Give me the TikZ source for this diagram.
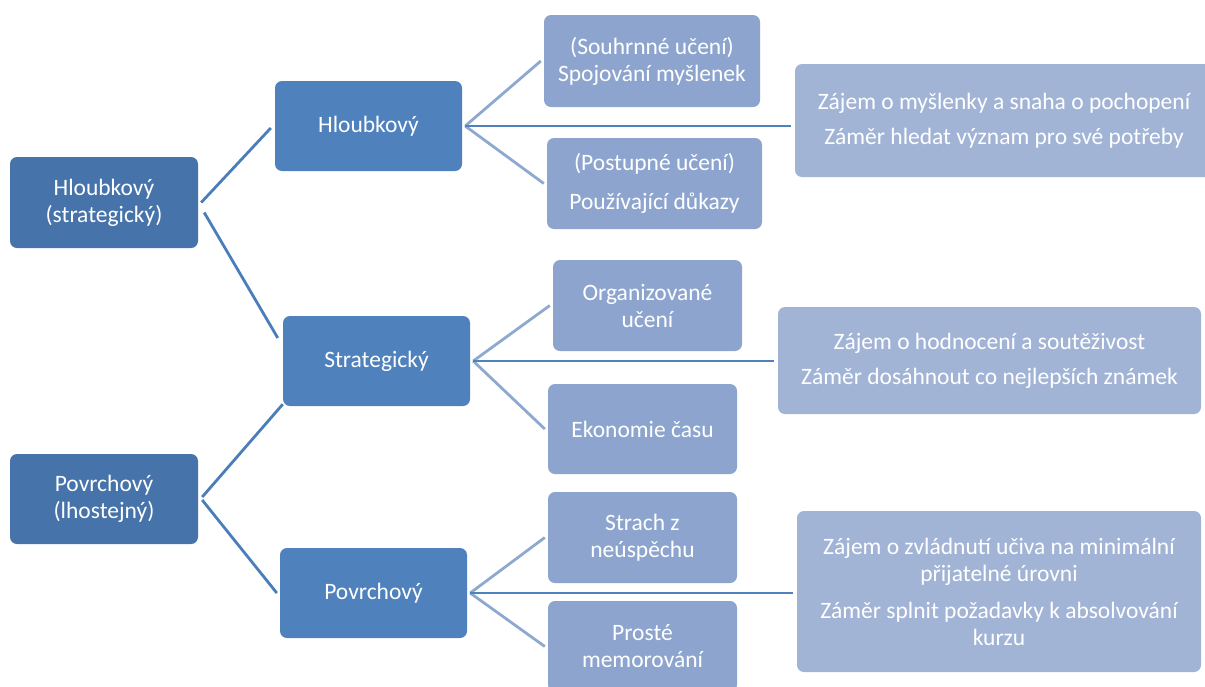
\documentclass[tikz,border=0pt]{standalone}
\usepackage{fontspec}
\setmainfont{Carlito}
\definecolor{darkblue}{HTML}{4673AA}
\definecolor{midblue}{HTML}{4F81BD}
\definecolor{softblue}{HTML}{8DA5CE}
\definecolor{paleblue}{HTML}{A2B4D6}
\definecolor{linkblue}{HTML}{4A7EBB}
\definecolor{branchblue}{HTML}{8EA9D0}
\tikzset{
  box/.style={rectangle, rounded corners=7pt, draw=none, text=white, align=center,
    inner sep=0pt, font=\fontsize{23.5}{27}\selectfont},
  rootbox/.style={box, fill=darkblue},
  stylebox/.style={box, fill=midblue},
  subbox/.style={box, fill=softblue},
  aimbox/.style={box, fill=paleblue},
  link/.style={draw=linkblue, line width=2.8pt},
  branch/.style={draw=branchblue, line width=2.8pt},
  spine/.style={draw=midblue, line width=2.8pt},
}
\begin{document}
\begin{tikzpicture}[x=1pt, y=-1pt]
\useasboundingbox (0,0) rectangle (1205,686);
\clip (0,0) rectangle (1205,686);
\fill[white] (0,0) rectangle (1205,686);

% left column: main approaches
\node[rootbox, minimum width=188pt, minimum height=91pt] (L1) at (104,202.5) {Hloubkový\\(strategický)};
\node[rootbox, minimum width=188pt, minimum height=90pt] (L2) at (104,499) {Povrchový\\(lhostejný)};

% middle column
\node[stylebox, minimum width=187pt, minimum height=90pt] (M1) at (368.5,126) {Hloubkový};
\node[stylebox, minimum width=187pt, minimum height=90pt] (M2) at (376.5,361) {Strategický};
\node[stylebox, minimum width=187pt, minimum height=90pt] (M3) at (373.5,593) {Povrchový};

% sub-approaches
\node[subbox, minimum width=216pt, minimum height=92pt] (S1) at (652,61) {(Souhrnné učení)\\Spojování myšlenek};
\node[subbox, minimum width=215pt, minimum height=91pt] (S2) at (654.5,183.5) {(Postupné učení)\\[12pt]Používající důkazy};
\node[subbox, minimum width=189pt, minimum height=91pt] (S3) at (647.5,305.5) {Organizované\\učení};
\node[subbox, minimum width=189pt, minimum height=90pt] (S4) at (642.5,429) {Ekonomie času};
\node[subbox, minimum width=189pt, minimum height=91pt] (S5) at (642.5,537.5) {Strach z\\neúspěchu};
\node[subbox, minimum width=189pt, minimum height=91pt] (S6) at (642.5,646.5) {Prosté\\memorování};

% interests and intentions
\node[aimbox, minimum width=418pt, minimum height=113pt] (R1) at (1004,120.5) {Zájem o myšlenky a snaha o pochopení\\[8pt]Záměr hledat význam pro své potřeby};
\node[aimbox, minimum width=423pt, minimum height=107pt] (R2) at (989.5,360.5) {Zájem o hodnocení a soutěživost\\[8pt]Záměr dosáhnout co nejlepších známek};
\node[aimbox, minimum width=404pt, minimum height=161pt] (R3) at (999,591.5) {Zájem o zvládnutí učiva na minimální\\přijatelné úrovni\\[10pt]Záměr splnit požadavky k absolvování\\kurzu};

% links from the main approaches
\draw[link] ([xshift=3pt]L1.east) -- ([xshift=-4pt,yshift=-2pt]M1.west);
\draw[link] ([xshift=6pt,yshift=-10pt]L1.east) -- ([xshift=-5pt,yshift=23pt]M2.west);
\draw[link] ([xshift=4pt,yshift=2pt]L2.east) -- ([yshift=2pt]M2.south west);
\draw[link] ([xshift=4pt,yshift=-1pt]L2.east) -- ([xshift=-3pt]M3.west);

% branches and spines
\foreach \m/\a/\b/\r in {M1/S1/S2/R1, M2/S3/S4/R2, M3/S5/S6/R3}{
  \draw[branch] ([xshift=3pt]\m.east) -- ([xshift=-3pt]\a.west);
  \draw[branch] ([xshift=3pt]\m.east) -- ([xshift=-3pt]\b.west);
  \draw[spine] ([xshift=3pt]\m.east) -- ([xshift=-4pt]\m.east -| \r.west);
}
\end{tikzpicture}
\end{document}
